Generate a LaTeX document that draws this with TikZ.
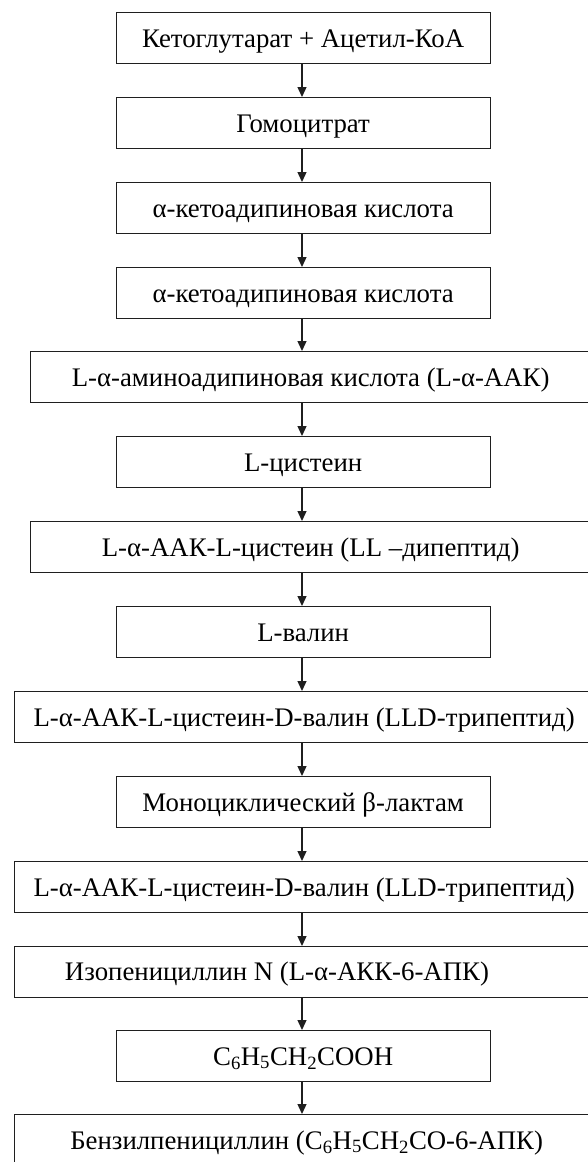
\documentclass[tikz,border=0pt]{standalone}
\usepackage{fontspec}
\setmainfont{Liberation Serif}
\usetikzlibrary{arrows.meta}
\tikzset{
  box/.style={draw=black!88, line width=1.3pt, inner sep=0pt, minimum height=51pt, anchor=north west, text height=18pt, text depth=0pt},
  lbl/.style={inner sep=0pt, text height=18pt, text depth=0pt, anchor=center},
  arr/.style={draw=black!88, line width=1.3pt, -{Triangle[length=10pt,width=9pt]}}
}
\begin{document}
\begin{tikzpicture}[x=1pt,y=-1pt,font=\fontsize{26.8}{31}\selectfont]
\useasboundingbox (0,0) rectangle (588,1162);
\clip (0,0) rectangle (588,1162);
\coordinate (ax) at (302,0);
\node[box, minimum width=374pt] (b1) at (115.5,12) {Кетоглутарат + Ацетил-КоА};
\node[box, minimum width=374pt] (b2) at (115.5,97) {Гомоцитрат};
\node[box, minimum width=374pt] (b3) at (115.5,182) {α-кетоадипиновая кислота};
\node[box, minimum width=374pt] (b4) at (115.5,267) {α-кетоадипиновая кислота};
\node[box, minimum width=560pt] (b5) at (30,351) {L-α-аминоадипиновая кислота (L-α-ААК)};
\node[box, minimum width=374pt] (b6) at (115.5,436) {L-цистеин};
\node[box, minimum width=560pt] (b7) at (30,521) {L-α-ААК-L-цистеин (LL –дипептид)};
\node[box, minimum width=374pt] (b8) at (115.5,606) {L-валин};
\node[box, minimum width=580pt] (b9) at (13.5,691) {L-α-ААК-L-цистеин-D-валин (LLD-трипептид)};
\node[box, minimum width=374pt] (b10) at (115.5,776) {Моноциклический β-лактам};
\node[box, minimum width=580pt] (b11) at (13.5,861) {L-α-ААК-L-цистеин-D-валин (LLD-трипептид)};
\node[box, minimum width=580pt] (b12) at (13.5,946) {};
\node[lbl] (t12) at (277,971) {Изопенициллин N (L-α-АКК-6-АПК)};
\node[box, minimum width=374pt] (b13) at (115.5,1030) {C\textsubscript{6}H\textsubscript{5}CH\textsubscript{2}COOH};
\node[box, minimum width=585pt] (b14) at (13.5,1114) {Бензилпенициллин (C\textsubscript{6}H\textsubscript{5}CH\textsubscript{2}CO-6-АПК)};
\foreach \a/\b in {b1/b2,b2/b3,b3/b4,b4/b5,b5/b6,b6/b7,b7/b8,b8/b9,b9/b10,b10/b11,b11/b12,b12/b13,b13/b14}
  \draw[arr] (\a.south -| ax) -- (\b.north -| ax);
\end{tikzpicture}
\end{document}
